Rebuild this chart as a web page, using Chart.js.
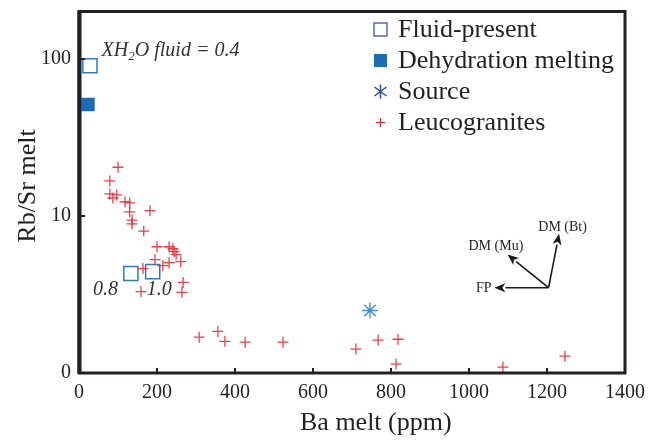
<!DOCTYPE html>
<html><head><meta charset="utf-8">
<script src="https://cdn.jsdelivr.net/npm/chart.js@4/dist/chart.umd.min.js"></script>
<style>html,body{margin:0;padding:0;background:#fff}#wrap{width:659px;height:440px}</style>
</head><body><div id="wrap"><canvas id="c" width="659" height="440"></canvas></div>
<script>
// ---- data ----
const baFluid = [28, 133, 189];
const rbsrFluid = [90.3, 4.30, 4.42];
const baDehyd = [23];
const rbsrDehyd = [51.2];
const baSource = [746];
const rbsrSource = [2.50];
const baLeuco = [100, 79, 79, 87, 97, 118, 130, 130, 182, 136, 136, 166, 200, 231, 241, 244, 249, 195, 231, 261, 215, 164, 267, 264, 159, 308, 356, 374, 426, 523, 710, 767, 818, 813, 1087, 1246];
const rbsrLeuco = [20.4, 16.7, 13.8, 13.0, 13.6, 12.3, 12.1, 10.6, 10.8, 9.4, 8.9, 8.0, 6.36, 6.36, 6.18, 5.92, 5.67, 5.27, 5.04, 5.11, 4.83, 4.62, 3.77, 3.26, 3.30, 1.69, 1.84, 1.59, 1.57, 1.57, 1.42, 1.62, 1.64, 1.14, 1.09, 1.28];
const xTicks = [0, 200, 400, 600, 800, 1000, 1200, 1400];
const yTicks = [1, 10, 100];
const yTickLabels = ['0', '10', '100'];
const seriesNames = ['Fluid-present', 'Dehydration melting', 'Source', 'Leucogranites'];
const xTitle = 'Ba melt (ppm)';
const yTitle = 'Rb/Sr melt';

const pts = (xs, ys) => xs.map((x, i) => ({x: x, y: ys[i]}));
const SERIF = '"Liberation Serif", "DejaVu Serif", serif';

const decor = {
  id: 'decor',
  afterDatasetsDraw(chart) {
    const ctx = chart.ctx, a = chart.chartArea;
    const xs = chart.scales.x, ys = chart.scales.y;
    ctx.save();
    // frame
    ctx.strokeStyle = '#231f20';
    ctx.lineWidth = 3;
    ctx.strokeRect(a.left, a.top, a.right - a.left, a.bottom - a.top);
    ctx.fillStyle = '#231f20';
    ctx.fillRect(a.left - 1.5, a.top, 4, a.bottom - a.top);
    // inward ticks
    ctx.lineWidth = 2;
    ctx.beginPath();
    xTicks.forEach(v => {
      if (v === 0 || v === 1400) return;
      const px = Math.round(xs.getPixelForValue(v));
      ctx.moveTo(px, a.bottom); ctx.lineTo(px, a.bottom - 5);
    });
    [10, 100].forEach(v => {
      const py = Math.round(ys.getPixelForValue(v));
      ctx.moveTo(a.left, py); ctx.lineTo(a.left + 6, py);
    });
    ctx.stroke();

    // axis titles
    ctx.fillStyle = '#231f20';
    ctx.font = '26px ' + SERIF;
    ctx.textBaseline = 'alphabetic';
    ctx.textAlign = 'left';
    ctx.fillText(xTitle, 300, 430);
    ctx.save();
    ctx.translate(35, 186);
    ctx.rotate(-Math.PI / 2);
    ctx.textAlign = 'center';
    ctx.fillText(yTitle, 0, 0);
    ctx.restore();

    // legend
    const lx = 380.5, ly0 = 29.5, dy = 31;
    ctx.textBaseline = 'middle';
    ctx.textAlign = 'left';
    ctx.font = '26px ' + SERIF;
    seriesNames.forEach((n, i) => {
      ctx.fillStyle = '#231f20';
      ctx.fillText(n, 398, ly0 + i * dy + 1);
    });
    // markers
    ctx.lineWidth = 1.3;
    ctx.strokeStyle = '#3a56a5';
    ctx.strokeRect(lx - 6.5, ly0 - 6.5, 13, 13);
    ctx.fillStyle = '#1b6db5';
    ctx.fillRect(lx - 6.5, ly0 + dy - 6.5, 13, 13);
    ctx.strokeStyle = '#2d4a9c';
    ctx.lineWidth = 1.5;
    let cy = ly0 + 2 * dy;
    ctx.beginPath();
    ctx.moveTo(lx, cy - 7); ctx.lineTo(lx, cy + 7);
    ctx.moveTo(lx - 6, cy - 4.5); ctx.lineTo(lx + 6, cy + 4.5);
    ctx.moveTo(lx - 6, cy + 4.5); ctx.lineTo(lx + 6, cy - 4.5);
    ctx.stroke();
    cy = ly0 + 3 * dy;
    ctx.strokeStyle = '#e8202a';
    ctx.lineWidth = 1.2;
    ctx.beginPath();
    ctx.moveTo(lx - 4.5, cy); ctx.lineTo(lx + 4.5, cy);
    ctx.moveTo(lx, cy - 4.5); ctx.lineTo(lx, cy + 4.5);
    ctx.stroke();

    // italic annotations
    ctx.fillStyle = '#333';
    ctx.textBaseline = 'alphabetic';
    ctx.font = 'italic 20px ' + SERIF;
    let tx = xs.getPixelForValue(58), ty = ys.getPixelForValue(104);
    ctx.fillText('XH', tx, ty);
    tx += ctx.measureText('XH').width;
    ctx.font = 'italic 13px ' + SERIF;
    ctx.fillText('2', tx, ty + 4);
    tx += ctx.measureText('2').width;
    ctx.font = 'italic 20px ' + SERIF;
    ctx.fillText('O fluid = 0.4', tx, ty);
    ctx.fillText('0.8', xs.getPixelForValue(36), ys.getPixelForValue(3.12));
    ctx.fillText('1.0', xs.getPixelForValue(174), ys.getPixelForValue(3.12));

    // arrows
    const ox = xs.getPixelForValue(1204), oy = ys.getPixelForValue(3.49);
    const arrow = (vx, vy) => {
      const tx2 = xs.getPixelForValue(vx), ty2 = ys.getPixelForValue(vy);
      const ang = Math.atan2(ty2 - oy, tx2 - ox);
      const hl = 11, hw = 4.5;
      const bx = tx2 - hl * Math.cos(ang), by = ty2 - hl * Math.sin(ang);
      ctx.strokeStyle = '#1a1a1a'; ctx.fillStyle = '#1a1a1a';
      ctx.lineWidth = 1.6;
      ctx.beginPath(); ctx.moveTo(ox, oy); ctx.lineTo(bx, by); ctx.stroke();
      ctx.beginPath();
      ctx.moveTo(tx2, ty2);
      ctx.lineTo(bx + hw * Math.sin(ang), by - hw * Math.cos(ang));
      ctx.lineTo(bx + 3 * Math.cos(ang), by + 3 * Math.sin(ang));
      ctx.lineTo(bx - hw * Math.sin(ang), by + hw * Math.cos(ang));
      ctx.closePath(); ctx.fill();
    };
    arrow(1065, 3.49);
    arrow(1099, 5.67);
    arrow(1231, 7.69);
    ctx.fillStyle = '#231f20';
    ctx.font = '14px ' + SERIF;
    ctx.textBaseline = 'middle';
    ctx.textAlign = 'right';
    ctx.fillText('FP', xs.getPixelForValue(1058), oy + 1);
    ctx.textAlign = 'center';
    ctx.fillText('DM (Mu)', xs.getPixelForValue(1069), ys.getPixelForValue(6.36));
    ctx.fillText('DM (Bt)', xs.getPixelForValue(1240), ys.getPixelForValue(8.43));
    ctx.restore();
  }
};

new Chart(document.getElementById('c'), {
  type: 'scatter',
  data: {
    datasets: [
      { label: seriesNames[3], data: pts(baLeuco, rbsrLeuco), pointStyle: 'cross', radius: 5.5,
        borderColor: 'rgba(240,40,52,0.9)', borderWidth: 1.3, backgroundColor: 'transparent' },
      { label: seriesNames[0], data: pts(baFluid, rbsrFluid), pointStyle: 'rect', radius: 10,
        borderColor: '#2b7cc2', borderWidth: 1.5, backgroundColor: 'rgba(255,255,255,0)' },
      { label: seriesNames[1], data: pts(baDehyd, rbsrDehyd), pointStyle: 'rect', radius: 9.5,
        borderColor: '#1a6cb6', borderWidth: 0, backgroundColor: '#1a6cb6' },
      { label: seriesNames[2], data: pts(baSource, rbsrSource), pointStyle: 'star', radius: 8,
        borderColor: '#3c8fd5', borderWidth: 1.4, backgroundColor: 'transparent' }
    ]
  },
  options: {
    responsive: false, animation: false, devicePixelRatio: 1,
    layout: { padding: { top: 10, right: 34, left: 0, bottom: 0 } },
    plugins: { legend: { display: false }, tooltip: { enabled: false } },
    scales: {
      x: {
        type: 'linear', min: 0, max: 1400,
        afterBuildTicks: s => { s.ticks = xTicks.map(v => ({value: v})); },
        afterFit: s => { s.height = 67; s.paddingLeft = 0; s.paddingRight = 0; },
        grid: { display: false, drawTicks: false },
        border: { display: false },
        ticks: { font: { family: SERIF, size: 20 }, color: '#231f20', padding: 8, maxRotation: 0, autoSkip: false,
          callback: v => String(v) },
        title: { display: false }
      },
      y: {
        type: 'logarithmic', min: 1, max: 200,
        afterBuildTicks: s => { s.ticks = yTicks.map(v => ({value: v})); },
        afterFit: s => { s.width = 79; s.paddingTop = 0; s.paddingBottom = 0; },
        grid: { display: false, drawTicks: false },
        border: { display: false },
        ticks: { font: { family: SERIF, size: 20 }, color: '#231f20', padding: 8, autoSkip: false,
          callback: v => { const i = yTicks.indexOf(v); return i >= 0 ? yTickLabels[i] : ''; } },
        title: { display: false }
      }
    }
  },
  plugins: [decor]
});
</script></body></html>
